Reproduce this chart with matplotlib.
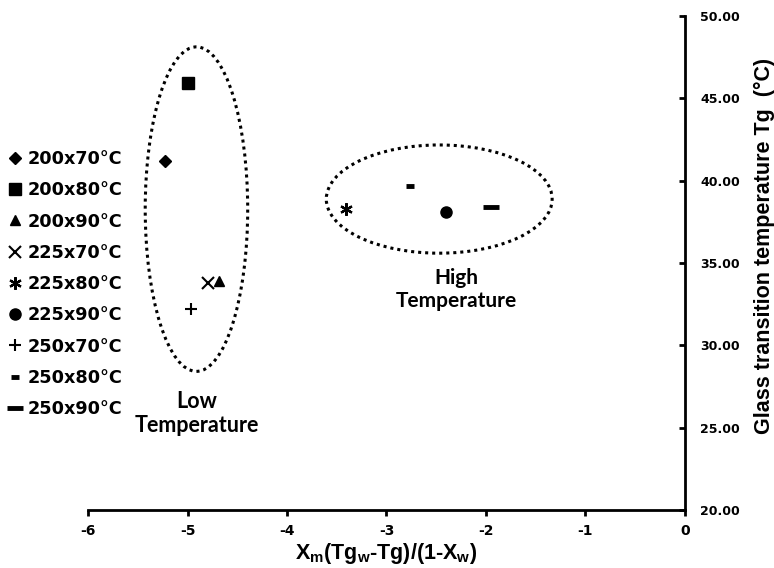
import matplotlib
matplotlib.use("Agg")
import matplotlib.pyplot as plt
from matplotlib.patches import Ellipse

# conditions (screw speed x barrel temperature) and measured values
conditions = ["200x70°C", "200x80°C", "200x90°C", "225x70°C", "225x80°C",
              "225x90°C", "250x70°C", "250x80°C", "250x90°C"]
x_vals = [-5.23, -4.99, -4.68, -4.79, -3.41, -2.40, -4.96, -2.76, -1.95]
tg_vals = [41.2, 45.9, 33.9, 33.8, 38.3, 38.1, 32.2, 39.7, 38.4]

x_ticks = [-6, -5, -4, -3, -2, -1, 0]
y_ticks = [20, 25, 30, 35, 40, 45, 50]

# marker style for each condition: (marker, size, edge width)
styles = [("D", 6, 1), ("s", 8, 1), ("^", 7.5, 1), ("x", 8, 1.5), ((6, 2, 0), 9, 1.6),
          ("o", 8, 1), ("+", 9, 1.5), ("_", 6, 3.5), ("_", 11, 3.5)]

plt.rcParams['font.family'] = ['Liberation Sans', 'DejaVu Sans']
plt.rcParams['mathtext.default'] = 'regular'

fig = plt.figure(figsize=(7.74, 5.68), dpi=100)
ax = fig.add_axes([0.1137, 0.102, 0.7713, 0.870])

for name, xv, yv, (m, ms, mew) in zip(conditions, x_vals, tg_vals, styles):
    ax.plot([xv], [yv], linestyle="none", marker=m, markersize=ms,
            markeredgewidth=mew, color="black", label=name)

# grouping ellipses
dots = (0, (1, 1.3))
ax.add_patch(Ellipse((-4.91, 38.27), 1.03, 19.7, fill=False, edgecolor="black",
                     linestyle=dots, linewidth=2.2))
ax.add_patch(Ellipse((-2.47, 38.88), 2.27, 6.57, fill=False, edgecolor="black",
                     linestyle=dots, linewidth=2.2))

ax.text(-4.91, 25.87, "Low\nTemperature", ha="center", va="center", fontsize=15.5,
        fontweight="bold", family="Lato", linespacing=1.2)
ax.text(-2.30, 33.4, "High\nTemperature", ha="center", va="center", fontsize=15,
        fontweight="bold", family="Lato", linespacing=1.2)

ax.set_xlim(-6, 0)
ax.set_ylim(20, 50)
ax.set_xticks(x_ticks)
ax.set_xticklabels([str(t) for t in x_ticks], fontsize=10, fontweight="bold",
                   family="DejaVu Sans")
ax.set_yticks(y_ticks)
ax.set_yticklabels(["%.2f" % t for t in y_ticks], fontsize=9, fontweight="bold",
                   family="DejaVu Sans")

ax.spines["left"].set_visible(False)
ax.spines["top"].set_visible(False)
ax.spines["right"].set_linewidth(2)
ax.spines["bottom"].set_linewidth(2)
ax.yaxis.tick_right()
ax.yaxis.set_label_position("right")
ax.tick_params(axis="y", direction="in", length=4, width=2, pad=11)
ax.tick_params(axis="x", direction="out", length=4, width=2, pad=6)

ax.set_xlabel("X$_m$(Tg$_w$-Tg)/(1-X$_w$)", fontsize=15.5, fontweight="bold")
ax.xaxis.set_label_coords(0.5, -0.062)
ax.set_ylabel("Glass transition temperature Tg  (°C)", fontsize=15.5, fontweight="bold")
ax.yaxis.set_label_coords(1.116, 0.535)

fig.legend(loc="upper left", bbox_to_anchor=(0.006, 0.745), frameon=False,
           prop={"weight": "bold", "size": 12.7, "family": "DejaVu Sans"},
           handlelength=0.6, handletextpad=0.4,
           labelspacing=0.75, borderaxespad=0, borderpad=0.3)

fig.savefig("out.png", dpi=100)
